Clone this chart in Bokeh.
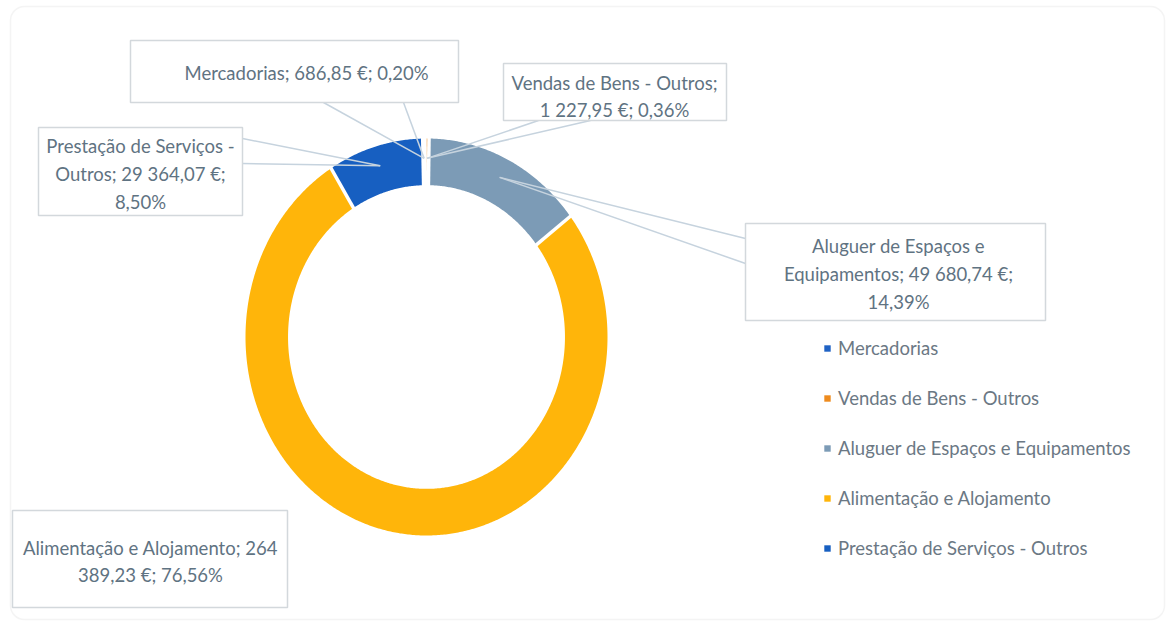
import math
import textwrap
from bokeh.plotting import figure
from bokeh.models import Range1d, ColumnDataSource, Legend, LegendItem, BoxAnnotation
from bokeh.core.properties import value
from bokeh.embed import file_html
from bokeh.resources import INLINE

# ---------------- data ----------------
categories = ["Mercadorias", "Vendas de Bens - Outros", "Aluguer de Espaços e Equipamentos",
              "Alimentação e Alojamento", "Prestação de Serviços - Outros"]
amounts = [686.85, 1227.95, 49680.74, 264389.23, 29364.07]
percents = [0.20, 0.36, 14.39, 76.56, 8.50]

# ---------------- style / layout ----------------
colors = ["#1F62C4", "#EE8B1E", "#7C9BB6", "#FFB50A", "#175FC1"]
FONT = "Lato"
FONT_SIZE = "18.5px"
TEXT_COLOR = "#5F7382"
LEGEND_COLOR = "#6B7884"

W, H = 1166, 621
CX, CY = 426.0, 336.5          # donut centre (page pixels)
RX, RY = 181.0, 198.5          # outer radii (scan is slightly stretched)
INNER = 0.765                  # inner / outer radius
START = -1.2                   # first slice angle, degrees clockwise from 12 o'clock

# label boxes: (left, right, top, bottom), text anchor, wrap width, leader anchors
label_layout = [
    dict(box=(130, 458, 40, 102), text=(306, 72), wrap=40, anchors=[(323, 102), (403, 102)]),
    dict(box=(503, 726, 63, 120), text=(614, 96), wrap=24, anchors=[(538, 120), (590, 120)]),
    dict(box=(745, 1045, 223, 320), text=(898, 273.5), wrap=26, anchors=[(745, 238), (745, 263)]),
    dict(box=(12, 287, 510, 607), text=(150, 561), wrap=29, anchors=[]),
    dict(box=(38, 242, 127, 215), text=(140, 173.5), wrap=23, anchors=[(242, 138), (242, 163)]),
]


def eur(v):
    return f"{v:,.2f}".replace(",", " ").replace(".", ",") + " €"


def pct(v):
    return f"{v:.2f}".replace(".", ",") + "%"


def pt(theta, r):
    a = math.radians(theta)
    return CX + RX * r * math.sin(a), CY - RY * r * math.cos(a)


total = sum(amounts)
bounds = [START]
for a in amounts:
    bounds.append(bounds[-1] + a / total * 360.0)

p = figure(width=W, height=H, x_range=Range1d(0, W), y_range=Range1d(H, 0),
           x_axis_type=None, y_axis_type=None, toolbar_location=None,
           output_backend="svg", min_border=0, outline_line_color=None,
           background_fill_color="white", border_fill_color="white")

# outer chart border
p.add_layout(BoxAnnotation(left=10, right=1164, top=6, bottom=619, fill_alpha=0,
                           line_color="#D9D9D9", line_width=1.5, border_radius=14))

# donut slices
slice_renderers = []
for i, name in enumerate(categories):
    a0, a1 = bounds[i], bounds[i + 1]
    n = max(2, int((a1 - a0) / 0.5) + 2)
    angs = [a0 + (a1 - a0) * k / (n - 1) for k in range(n)]
    outer = [pt(t, 1.0) for t in angs]
    inner = [pt(t, INNER) for t in reversed(angs)]
    xs = [q[0] for q in outer + inner]
    ys = [q[1] for q in outer + inner]
    r = p.patch(xs, ys, fill_color=colors[i], line_color=None)
    slice_renderers.append(r)

# white separators between slices
sx0, sy0, sx1, sy1 = [], [], [], []
for b in bounds[:-1]:
    x0, y0 = pt(b, INNER - 0.03)
    x1, y1 = pt(b, 1.03)
    sx0.append(x0); sy0.append(y0); sx1.append(x1); sy1.append(y1)
p.segment(sx0, sy0, sx1, sy1, line_color="white", line_width=3.5)

# leader lines
lx, ly = [], []
for i, lay in enumerate(label_layout):
    mid = (bounds[i] + bounds[i + 1]) / 2
    tx, ty = pt(mid, 0.9)
    for ax, ay in lay["anchors"]:
        lx.append([ax, tx]); ly.append([ay, ty])
p.multi_line(lx, ly, line_color="#C6D3DE", line_width=1.5)

# label boxes
p.quad(left=[l["box"][0] for l in label_layout], right=[l["box"][1] for l in label_layout],
       top=[l["box"][2] for l in label_layout], bottom=[l["box"][3] for l in label_layout],
       fill_color="white", line_color="#D3D8DC", line_width=1.5)

# label texts
texts = []
for i, name in enumerate(categories):
    full = f"{name}; {eur(amounts[i])}; {pct(percents[i])}"
    texts.append("\n".join(textwrap.wrap(full, label_layout[i]["wrap"])))
src = ColumnDataSource(dict(x=[l["text"][0] for l in label_layout],
                            y=[l["text"][1] for l in label_layout], text=texts))
p.text(x="x", y="y", text="text", source=src, text_font=value(FONT), text_font_size=FONT_SIZE,
       text_color=TEXT_COLOR, text_align="center", text_baseline="middle", text_line_height=1.27)

# legend
legend = Legend(items=[LegendItem(label=categories[i], renderers=[slice_renderers[i]])
                       for i in range(len(categories))],
                location=(823, 62), padding=0, margin=0, spacing=28,
                glyph_width=8, glyph_height=8, label_height=22, label_standoff=7,
                label_text_font=FONT, label_text_font_size=FONT_SIZE, label_text_color=LEGEND_COLOR,
                border_line_color=None, background_fill_alpha=0)
p.add_layout(legend)

open("out.html", "w").write(file_html(p, INLINE))
